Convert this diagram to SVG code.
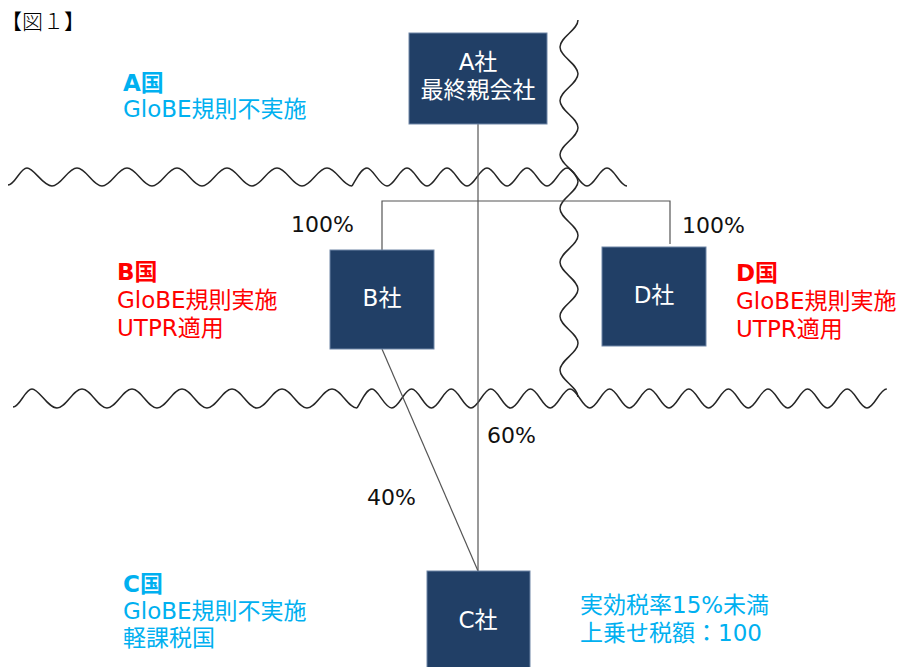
<svg xmlns="http://www.w3.org/2000/svg" width="897" height="667" viewBox="0 0 897 667">
<style>
.box{fill:#213F66;stroke:#6F86A6;stroke-width:1}
.bt{font-family:"DejaVu Sans","Noto Sans CJK JP",sans-serif;font-size:23px;fill:#FFFFFF;text-anchor:middle}
.lb{font-family:"DejaVu Sans","Noto Sans CJK JP",sans-serif;font-size:23px}
.cy{fill:#00B0F0}
.rd{fill:#FF0000}
.b{font-weight:bold}
.pc{font-family:"DejaVu Sans","Noto Sans CJK JP",sans-serif;font-size:22px;fill:#111111}
.wave{fill:none;stroke:#262626;stroke-width:1.5}
.cn{fill:none;stroke:#555555;stroke-width:1.2}
</style>
<rect width="897" height="667" fill="#FFFFFF"/>
<text x="1" y="29" font-family="'Noto Sans CJK JP',sans-serif" font-size="21" font-weight="300" fill="#000">【図１】</text>

<g id="borders">
<path class="wave" d="M8,185 c7,0 12,-17 19,-17 s15.9,18 25,18 s15.9,-18 25,-18 s15.9,18 25,18 s15.9,-18 25,-18 s15.9,18 25,18 s15.9,-18 25,-18 s15.9,18 25,18 s15.9,-18 25,-18 s15.9,18 25,18 s15.9,-18 25,-18 s15.9,18 25,18 s15.9,-18 25,-18 s15.9,18 25,18"/>
<path class="wave" d="M352,186 c4,-6 9,-18 15,-18 s12.7,18 20,18 s12.7,-18 20,-18 s12.7,18 20,18 s12.7,-18 20,-18 s12.7,18 20,18 s12.7,-18 20,-18 s12.7,18 20,18 s12.7,-18 20,-18 s12.7,18 20,18 s12.7,-18 20,-18 s12.7,18 20,18 s12.7,-18 20,-18 s12.7,18 20,18"/>
<path class="wave" d="M13,407 c7,0 12,-18 19,-18 s15.9,19 25,19 s15.9,-19 25,-19 s15.9,19 25,19 s15.9,-19 25,-19 s15.9,19 25,19 s15.9,-19 25,-19 s15.9,19 25,19 s15.9,-19 25,-19 s15.9,19 25,19 s15.9,-19 25,-19 s15.9,19 25,19 s15.9,-19 25,-19 s15.9,19 25,19"/>
<path class="wave" d="M357,408 c4,-6 9,-19 15,-19 s12.6,19 19.8,19 s12.6,-19 19.8,-19 s12.6,19 19.8,19 s12.6,-19 19.8,-19 s12.6,19 19.8,19 s12.6,-19 19.8,-19 s12.6,19 19.8,19 s12.6,-19 19.8,-19 s12.6,19 19.8,19 s12.6,-19 19.8,-19 s12.6,19 19.8,19 s12.6,-19 19.8,-19 s12.6,19 19.8,19 s12.6,-19 19.8,-19 s12.6,19 19.8,19 s12.6,-19 19.8,-19 s12.6,19 19.8,19 s12.6,-19 19.8,-19 s12.6,19 19.8,19 s12.6,-19 19.8,-19 s12.6,19 19.8,19 s12.6,-19 19.8,-19 s12.6,19 19.8,19 s12.6,-19 19.8,-19 s12.6,19 19.8,19 s12.6,-19 19.8,-19"/>
<path class="wave" d="M578,20 c0,9.81 -18,17.12 -18,26.93 s18,17.12 18,26.93 s-18,17.12 -18,26.93 s18,17.12 18,26.93 s-18,17.12 -18,26.93 s18,17.12 18,26.93 s-18,17.12 -18,26.93 s18,17.12 18,26.93 s-18,17.12 -18,26.93 s18,17.12 18,26.93 s-18,17.12 -18,26.93 s18,17.12 18,26.93 s-18,17.12 -18,26.93 s18,17.12 18,26.93"/>
</g>

<g id="connectors">
<path class="cn" d="M478,124 V571"/>
<path class="cn" d="M382,250 V201 H670 V244"/>
<path class="cn" d="M382,349 L478,571" stroke-width="1"/>
</g>

<g id="nodeA">
<rect class="box" x="409" y="33" width="138" height="91"/>
<text class="bt" x="478" y="70">A社</text>
<text class="bt" x="478" y="98">最終親会社</text>
</g>
<g id="nodeB">
<rect class="box" x="330" y="250" width="104" height="99"/>
<text class="bt" x="382" y="306">B社</text>
</g>
<g id="nodeD">
<rect class="box" x="602" y="247" width="104" height="99"/>
<text class="bt" x="654" y="303">D社</text>
</g>
<g id="nodeC">
<rect class="box" x="427" y="571" width="103" height="100"/>
<text class="bt" x="478" y="628">C社</text>
</g>

<g id="labels">
<text class="pc" x="291" y="232">100%</text>
<text class="pc" x="682" y="233">100%</text>
<text class="pc" x="487" y="443">60%</text>
<text class="pc" x="367" y="505">40%</text>

<text class="lb cy b" x="123" y="91">A国</text>
<text class="lb cy" x="123" y="117">GloBE規則不実施</text>

<text class="lb rd b" x="117" y="280">B国</text>
<text class="lb rd" x="117" y="308">GloBE規則実施</text>
<text class="lb rd" x="117" y="336">UTPR適用</text>

<text class="lb rd b" x="736" y="281">D国</text>
<text class="lb rd" x="736" y="309">GloBE規則実施</text>
<text class="lb rd" x="736" y="337">UTPR適用</text>

<text class="lb cy b" x="123" y="592">C国</text>
<text class="lb cy" x="123" y="619">GloBE規則不実施</text>
<text class="lb cy" x="123" y="646">軽課税国</text>

<text class="lb cy" x="580" y="613">実効税率15%未満</text>
<text class="lb cy" x="580" y="641">上乗せ税額：100</text>
</g>
</svg>
